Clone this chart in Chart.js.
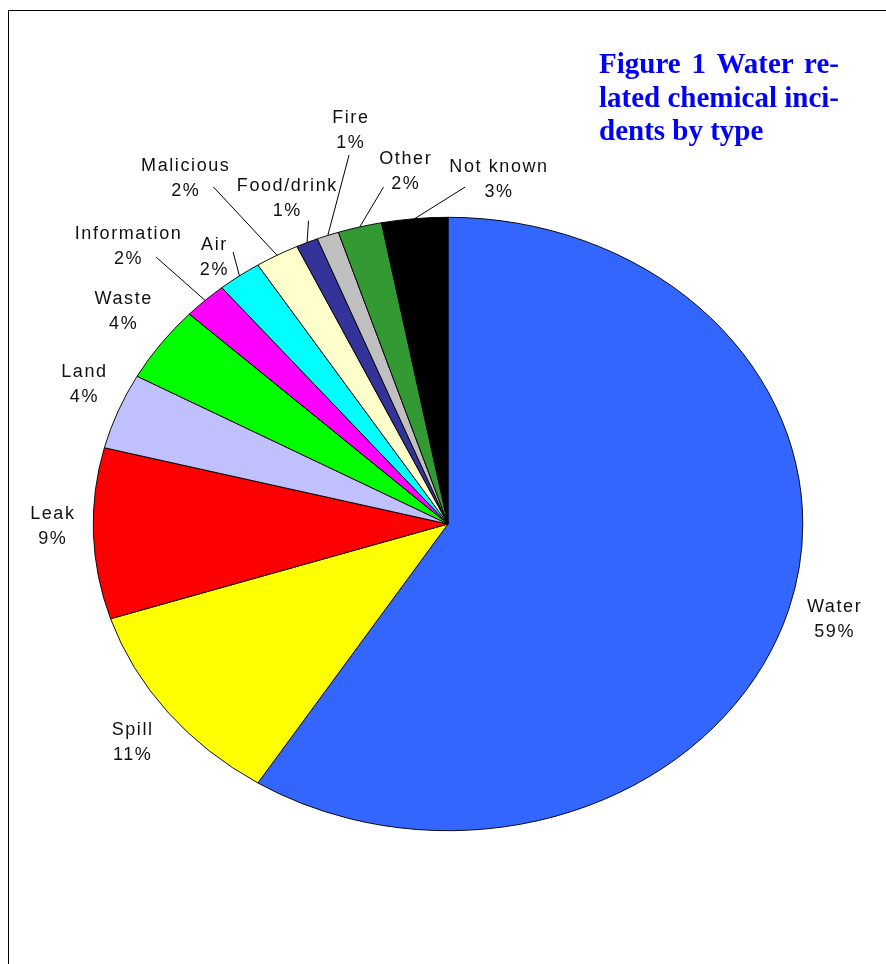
<!DOCTYPE html>
<html>
<head>
<meta charset="utf-8">
<script src="https://cdn.jsdelivr.net/npm/chart.js@4.4.1/dist/chart.umd.min.js"></script>
<style>
  html, body { margin: 0; padding: 0; background: #fff; overflow: hidden; }
  #wrap { position: relative; width: 886px; height: 964px; }
  #frame { position: absolute; left: 8px; top: 10px; width: 900px; height: 980px;
           border-top: 1px solid #000; border-left: 1px solid #000; }
  #pie { position: absolute; left: 0; top: 0; }
  #title { position: absolute; left: 599px; top: 47px; width: 240px;
           font: bold 29px "Liberation Serif", "Times New Roman", serif;
           line-height: 33.5px; color: #0000ff; }
  #title div { white-space: nowrap; }
  #title .j { text-align: justify; text-align-last: justify; white-space: normal; }
</style>
</head>
<body>
<div id="wrap">
  <div id="frame"></div>
  <canvas id="pie" width="886" height="964"></canvas>
  <div id="title">
    <div class="j">Figure 1 Water re-</div>
    <div class="j">lated chemical inci-</div>
    <div>dents by type</div>
  </div>
</div>
<script>
// incident types, clockwise from 12 o'clock
const incidentTypes = ['Water', 'Spill', 'Leak', 'Land', 'Waste', 'Information',
  'Air', 'Malicious', 'Food/drink', 'Fire', 'Other', 'Not known'];
// share of incidents, %
const incidentShares = [59, 11, 9, 4, 4, 2, 2, 2, 1, 1, 2, 3];
const sliceColors = ['#3366ff', '#ffff00', '#ff0000', '#c0c0ff', '#00ff00', '#ff00ff',
  '#00ffff', '#ffffcc', '#333399', '#c0c0c0', '#339933', '#000000'];

// label placement: [angle shift in degrees, distance as a fraction of the radius]
const labelPlacement = [[-0.4, 1.13], [-0.6, 1.137], [1.55, 1.116], [2.5, 1.125],
  [1.3, 1.152], [-1.6, 1.281], [-1.1, 1.095], [-4.4, 1.354], [0.3, 1.16],
  [7.7, 1.317], [8.4, 1.16], [12.55, 1.137]];
// where the leader line leaves the label (offset from label centre), null = no leader
const leaderStart = [null, null, null, null, null, [28.5, 12], [19.5, -4],
  [28.5, 10.5], [22, 24], [-1, 26], [-21.5, 17], [-33, 9]];

const squash = 306.7 / 354.8; // pie is drawn as an ellipse

function ellipseTransform(chart) {
  const arc = chart.getDatasetMeta(0).data[0];
  return { cx: arc.x, cy: arc.y, rx: arc.outerRadius, ry: arc.outerRadius * squash };
}

const ellipsePlugin = {
  id: 'ellipse',
  beforeDatasetsDraw(chart) {
    const { cx, cy } = ellipseTransform(chart);
    const ctx = chart.ctx;
    ctx.save();
    ctx.translate(cx, cy);
    ctx.scale(1, squash);
    ctx.translate(-cx, -cy);
  },
  afterDatasetsDraw(chart) {
    chart.ctx.restore();
  }
};

const sliceLabels = {
  id: 'sliceLabels',
  afterDraw(chart) {
    const ctx = chart.ctx;
    const { cx, cy, rx, ry } = ellipseTransform(chart);
    const arcs = chart.getDatasetMeta(0).data;
    ctx.save();
    ctx.font = '18px "Liberation Sans", Arial, sans-serif';
    ctx.letterSpacing = '1.6px';
    ctx.fillStyle = '#111';
    ctx.textAlign = 'center';
    ctx.textBaseline = 'alphabetic';
    arcs.forEach((arc, i) => {
      const mid = (arc.startAngle + arc.endAngle) / 2;
      const [shift, f] = labelPlacement[i];
      const a = mid + shift * Math.PI / 180;
      const lx = cx + rx * f * Math.cos(a);
      const ly = cy + ry * f * Math.sin(a);
      ctx.fillText(incidentTypes[i], lx + 0.8, ly - 6);
      ctx.fillText(incidentShares[i] + '%', lx + 0.8, ly + 19);
      const ls = leaderStart[i];
      if (ls) {
        ctx.beginPath();
        ctx.strokeStyle = '#000';
        ctx.lineWidth = 1;
        ctx.moveTo(lx + ls[0], ly + ls[1]);
        ctx.lineTo(cx + rx * Math.cos(mid), cy + ry * Math.sin(mid));
        ctx.stroke();
      }
    });
    ctx.restore();
  }
};

new Chart(document.getElementById('pie'), {
  type: 'pie',
  data: {
    labels: incidentTypes,
    datasets: [{
      data: incidentShares,
      backgroundColor: sliceColors,
      borderColor: '#000',
      borderWidth: 1
    }]
  },
  options: {
    responsive: false,
    animation: false,
    events: [],
    radius: 354.8,
    layout: { padding: { left: 93, right: 83, top: 169, bottom: 85 } },
    plugins: { legend: { display: false }, tooltip: { enabled: false } }
  },
  plugins: [ellipsePlugin, sliceLabels]
});
</script>
</body>
</html>
